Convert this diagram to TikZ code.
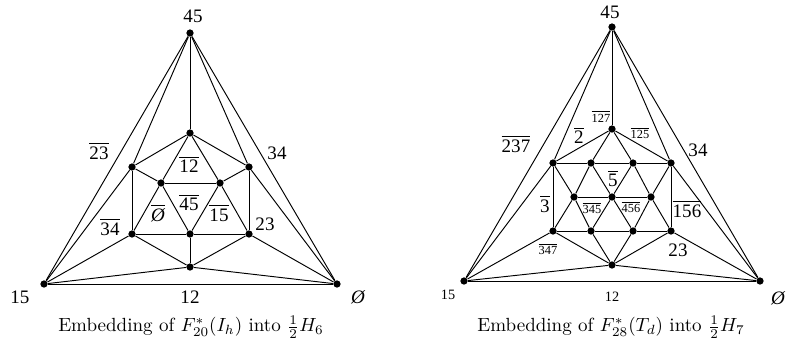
\documentclass[tikz,border=0pt]{standalone}
\usepackage{fontspec}
\newfontfamily\lblfont{Liberation Serif}
\newcommand{\ob}[1]{$\overline{\mbox{#1}}$}

\tikzset{
  dot/.style={circle,fill=black,inner sep=0pt,minimum size=3.8pt},
  lbl/.style={font=\lblfont,inner sep=1pt},
  slbl/.style={font=\lblfont\fontsize{6.5}{7}\selectfont,inner sep=1pt},
  edge/.style={line width=.5pt}
}

\begin{document}
\begin{tikzpicture}[x=.525pt,y=-.525pt]
  \useasboundingbox (0,0) rectangle (788,352);
  \begin{scope}
  % icosahedron, left
  \node[dot] (a45) at (190,33) {};
  \node[dot] (a15) at (44,284) {};
  \node[dot] (a0)  at (337,284) {};
  \node[dot] (at)  at (190,133) {};
  \node[dot] (aul) at (132,167) {};
  \node[dot] (aur) at (249,167) {};
  \node[dot] (all) at (132,234) {};
  \node[dot] (alr) at (249,234) {};
  \node[dot] (ab)  at (190,267) {};
  \node[dot] (ai1) at (161,183) {};
  \node[dot] (ai2) at (220,183) {};
  \node[dot] (ai3) at (190,234) {};
  \foreach \u/\v in {a45/a15,a45/a0,a15/a0,a45/at,a45/aul,a45/aur,
                     a15/aul,a15/all,a15/ab,a0/aur,a0/alr,a0/ab,
                     at/aul,at/aur,at/ai1,at/ai2,aul/all,aul/ai1,
                     aur/alr,aur/ai2,all/ab,all/ai1,all/ai3,
                     alr/ab,alr/ai2,alr/ai3,ab/ai3,ai1/ai2,ai1/ai3,ai2/ai3}
           {\draw[edge] (\u) -- (\v);}
  %
  \node[lbl] (la45) at (193,16) {45};
  \node[lbl] (la15) at (20,297) {15};
  \node[lbl] (la12) at (190,297) {12};
  \node[lbl] (la0)  at (358,297) {\itshape Ø};
  \node[lbl] (la23b) at (99,151) {\ob{23}};
  \node[lbl] (la34) at (277,153) {34};
  \node[lbl] (la34b) at (110,227) {\ob{34}};
  \node[lbl] (la23) at (265,224) {23};
  \node[lbl] (la12b) at (189,164) {\ob{12}};
  \node[lbl] (la45b) at (189,202) {\ob{45}};
  \node[lbl] (la0b) at (158,213) {\ob{\itshape Ø}};
  \node[lbl] (la15b) at (219,213) {\ob{15}};
  \node (capa) at (191,327) {Embedding of $F^*_{20}(I_h)$ into $\frac12H_6$};
  \end{scope}
  %
  \begin{scope}
  % F_28 dual, right
  \node[dot] (b45) at (612,27) {};
  \node[dot] (b15) at (464,281) {};
  \node[dot] (b0)  at (760,281) {};
  \node[dot] (bt)  at (612,129) {};
  \node[dot] (bul) at (553,163) {};
  \node[dot] (bur) at (671,163) {};
  \node[dot] (bll) at (553,231) {};
  \node[dot] (blr) at (671,231) {};
  \node[dot] (bb)  at (612,265) {};
  \node[dot] (t1)  at (591,163) {};
  \node[dot] (t2)  at (633,163) {};
  \node[dot] (m1)  at (574,197) {};
  \node[dot] (m2)  at (612,197) {};
  \node[dot] (m3)  at (651,197) {};
  \node[dot] (d1)  at (591,231) {};
  \node[dot] (d2)  at (633,231) {};
  \foreach \u/\v in {b45/b15,b45/b0,b45/bt,b45/bul,b45/bur,
                     b15/b0,b15/bul,b15/bll,b15/bb,b0/bur,b0/blr,b0/bb,
                     bt/bul,bt/bur,bt/t1,bt/t2,bul/t1,bul/bll,bul/m1,
                     bur/t2,bur/blr,bur/m3,bll/d1,bll/m1,bll/bb,
                     blr/d2,blr/m3,blr/bb,bb/d1,bb/d2,t1/t2,t1/m1,t1/m2,
                     t2/m2,t2/m3,m1/d1,m1/m2,m2/m3,m2/d1,m2/d2,m3/d2,d1/d2}
           {\draw[edge] (\u) -- (\v);}
  %
  \node[lbl] (lb45) at (610,12) {45};
  \node[slbl,font=\lblfont\fontsize{7.5}{8}\selectfont] (lb15) at (448,295) {15};
  \node[slbl,font=\lblfont\fontsize{7.5}{8}\selectfont] (lb12) at (612,297) {12};
  \node[lbl] (lb0)  at (778,298) {\itshape Ø};
  \node[lbl] (lb237) at (516,144) {\ob{237}};
  \node[lbl] (lb34) at (698,150) {34};
  \node[slbl] (lb127) at (601,116) {\ob{127}};
  \node[slbl] (lb125) at (640,133) {\ob{125}};
  \node[lbl] (lb2) at (579,135) {\ob{2}};
  \node[lbl] (lb5) at (613,178) {\ob{5}};
  \node[lbl] (lb3) at (545,204) {\ob{3}};
  \node[slbl] (lb345) at (592,208) {\ob{345}};
  \node[slbl] (lb456) at (631,207) {\ob{456}};
  \node[lbl] (lb156) at (687,209) {\ob{156}};
  \node[slbl] (lb347) at (548,249) {\ob{347}};
  \node[lbl] (lb23) at (678,250) {23};
  \node (capb) at (611,327) {Embedding of $F^*_{28}(T_d)$ into $\frac12H_7$};
  \end{scope}
\end{tikzpicture}
\end{document}
